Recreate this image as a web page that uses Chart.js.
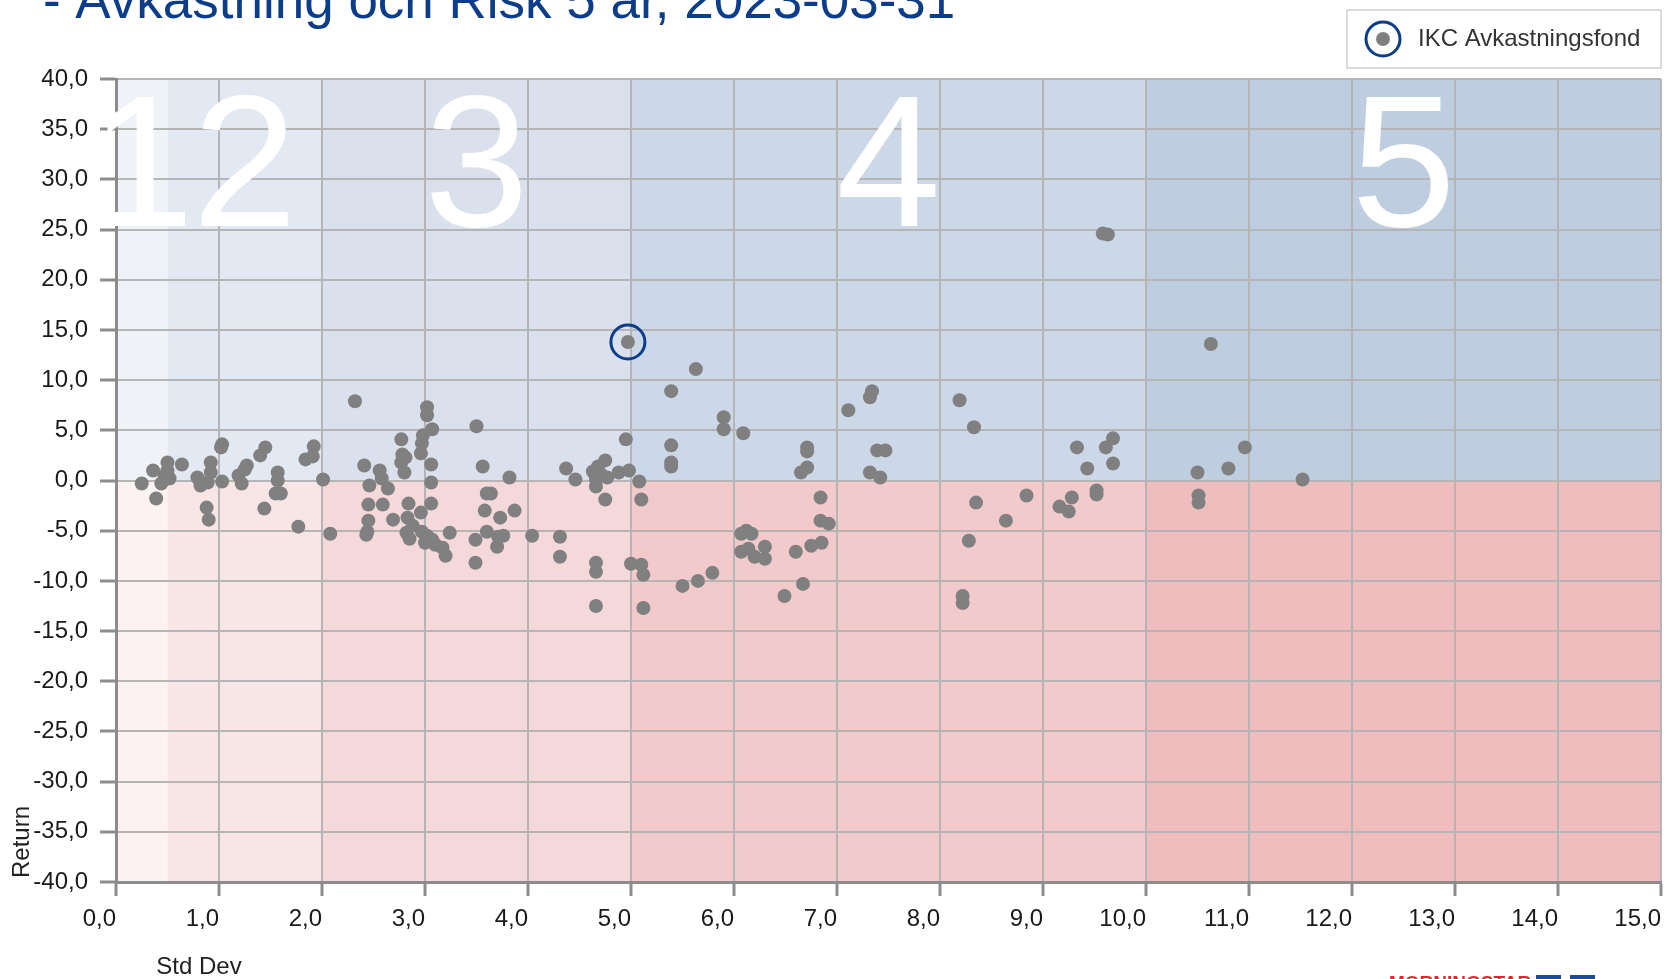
<!DOCTYPE html>
<html>
<head>
<meta charset="utf-8">
<script src="https://cdn.jsdelivr.net/npm/chart.js@4.4.0/dist/chart.umd.min.js"></script>
<style>
  html, body { margin: 0; padding: 0; background: #fff; }
  canvas { display: block; }
</style>
</head>
<body>
<canvas id="chart" width="1667" height="979"></canvas>
<script>
// Avkastning och Risk 5 år - scatter (std dev vs return)

const titleText = '- Avkastning och Risk 5 år, 2023-03-31';
const fundName = 'IKC Avkastningsfond';

// risk class bands on the x axis
const bandEdges = [0, 0.5, 2, 5, 10, 15];
const bandLabels = ['1', '2', '3', '4', '5'];
const bandColorsUp = ['#eff3f8', '#e3e9f2', '#dae1ec', '#ccd8e8', '#bfcde0'];
const bandColorsDown = ['#fbf2f1', '#f8e5e5', '#f5d8d9', '#f2cacb', '#efbdbd'];

// the fund itself
const fundStd = [4.97];
const fundRet = [13.8];

// all other funds (std dev, return)
const otherStd = [
  0.25, 0.36, 0.39, 0.44, 0.50, 0.50, 0.52, 0.64, 0.47,
  0.79, 0.82, 0.92, 0.92, 0.89, 0.88, 0.90,
  1.03, 1.02, 1.03, 1.19, 1.27, 1.22, 1.25,
  1.40, 1.45, 1.44, 1.57, 1.57, 1.55, 1.60, 1.77,
  1.84, 1.91, 1.92, 2.01, 2.08, 2.32,
  2.41, 2.56, 2.58, 2.46, 2.64, 2.45, 2.59, 2.45, 2.43, 2.44,
  2.77, 2.78, 2.81, 2.77, 2.80,
  2.98, 2.97, 2.96, 3.02, 3.02, 3.07, 3.06, 3.06,
  2.84, 3.06, 2.96,
  2.69, 2.83, 2.88, 2.82, 2.85, 2.97, 3.02, 3.00, 3.07, 3.10, 3.17, 3.20, 3.24,
  3.50, 3.56, 3.82, 3.60, 3.64, 3.58, 3.73, 3.87,
  3.60, 3.71, 3.76, 3.70, 4.04, 3.49, 3.49,
  4.37, 4.46, 4.63, 4.68, 4.75, 4.71, 4.77, 4.66, 4.66,
  4.88, 4.98, 5.08, 4.75, 5.10, 4.95,
  4.31, 4.31, 4.66, 4.66, 4.66, 5.00, 5.10, 5.12, 5.12,
  5.50, 5.65, 5.79, 5.39, 5.63, 5.39, 5.39, 5.39,
  5.90, 5.90, 6.09, 6.07, 6.12, 6.17,
  6.07, 6.14, 6.20, 6.30, 6.30, 6.60, 6.75, 6.85, 6.49, 6.67,
  6.84, 6.84, 6.92, 6.71, 6.71, 6.71, 6.65,
  7.11, 7.34, 7.32, 7.39, 7.47, 7.32, 7.42,
  8.19, 8.33, 8.35, 8.84, 8.64, 8.28, 8.22, 8.22,
  9.16, 9.25, 9.28, 9.33, 9.43, 9.52, 9.52, 9.61, 9.68, 9.68,
  9.58, 9.63,
  10.50, 10.51, 10.51, 10.63, 10.80, 10.96, 11.52
];
const otherRet = [
  -0.3, 1.0, -1.8, -0.3, 1.8, 1.0, 0.2, 1.6, 0.5,
  0.3, -0.5, 1.8, 0.8, -0.2, -2.7, -3.9,
  3.6, 3.3, -0.1, 0.5, 1.5, -0.3, 1.1,
  2.5, 3.3, -2.8, 0.8, 0.0, -1.3, -1.3, -4.6,
  2.1, 2.4, 3.4, 0.1, -5.3, 7.9,
  1.5, 1.0, 0.2, -0.5, -0.8, -2.4, -2.4, -4.0, -5.4, -5.1,
  4.1, 2.6, 2.3, 1.8, 0.8,
  4.5, 3.7, 2.7, 7.3, 6.5, 5.1, 1.6, -0.2,
  -2.3, -2.3, -3.2,
  -3.9, -3.7, -4.5, -5.2, -5.8, -5.1, -5.5, -6.2, -5.9, -6.4, -6.7, -7.5, -5.2,
  5.4, 1.4, 0.3, -1.3, -1.3, -3.0, -3.7, -3.0,
  -5.1, -5.6, -5.5, -6.6, -5.5, -5.9, -8.2,
  1.2, 0.1, 0.9, 1.4, 2.0, 0.6, 0.3, -0.6, 0.1,
  0.8, 1.0, -0.1, -1.9, -1.9, 4.1,
  -5.6, -7.6, -8.2, -9.1, -12.5, -8.3, -8.4, -9.4, -12.7,
  -10.5, -10.0, -9.2, 8.9, 11.1, 3.5, 1.8, 1.4,
  6.3, 5.1, 4.7, -5.3, -5.0, -5.3,
  -7.1, -6.8, -7.6, -6.6, -7.8, -7.1, -6.5, -6.2, -11.5, -10.3,
  -1.7, -4.0, -4.3, 3.3, 2.9, 1.3, 0.8,
  7.0, 8.9, 8.3, 3.0, 3.0, 0.8, 0.3,
  8.0, 5.3, -2.2, -1.5, -4.0, -6.0, -11.5, -12.2,
  -2.6, -3.1, -1.7, 3.3, 1.2, -1.0, -1.4, 3.3, 4.2, 1.7,
  24.6, 24.5,
  0.8, -1.5, -2.2, 13.6, 1.2, 3.3, 0.1
];

const FONT = '"Liberation Sans", Arial, Helvetica, sans-serif';
const DOT = '#808080';
const BLUE = '#0b3d8a';

function toPoints(xs, ys) {
  return xs.map((v, i) => ({ x: v, y: ys[i] }));
}
function fmt(v) {
  return v.toFixed(1).replace('.', ',');
}

// background bands, drawn under the grid
const bandsPlugin = {
  id: 'bands',
  beforeDraw(chart) {
    const { ctx, chartArea: a, scales: { x, y } } = chart;
    ctx.save();
    ctx.fillStyle = '#fff';
    ctx.fillRect(0, 0, chart.width, chart.height);
    const y0 = y.getPixelForValue(0);
    for (let i = 0; i < bandEdges.length - 1; i++) {
      const x1 = x.getPixelForValue(bandEdges[i]);
      const x2 = x.getPixelForValue(bandEdges[i + 1]);
      ctx.fillStyle = bandColorsUp[i];
      ctx.fillRect(x1, a.top, x2 - x1, y0 - a.top);
      ctx.fillStyle = bandColorsDown[i];
      ctx.fillRect(x1, y0, x2 - x1, a.bottom - y0);
    }
    ctx.restore();
  }
};

// texts on top: risk class numbers, title, legend, axis titles
const overlayPlugin = {
  id: 'overlay',
  afterDraw(chart) {
    const { ctx, scales: { x } } = chart;
    ctx.save();

    // big white risk class numbers
    ctx.fillStyle = '#fff';
    ctx.font = '188px ' + FONT;
    ctx.textAlign = 'center';
    ctx.textBaseline = 'alphabetic';
    for (let i = 0; i < bandLabels.length; i++) {
      const cx = x.getPixelForValue((bandEdges[i] + bandEdges[i + 1]) / 2);
      ctx.fillText(bandLabels[i], cx, 226);
    }

    // title (cut at the top like the original)
    ctx.fillStyle = BLUE;
    ctx.font = '53px ' + FONT;
    ctx.textAlign = 'left';
    ctx.fillText(titleText, 43, 18);

    // legend
    ctx.fillStyle = '#fff';
    ctx.fillRect(1347, 10, 314, 58);
    ctx.strokeStyle = '#cfcfcf';
    ctx.lineWidth = 1.5;
    ctx.strokeRect(1347, 10, 314, 58);
    ctx.beginPath();
    ctx.arc(1383, 39, 17, 0, Math.PI * 2);
    ctx.strokeStyle = BLUE;
    ctx.lineWidth = 3;
    ctx.stroke();
    ctx.beginPath();
    ctx.arc(1383, 39, 7, 0, Math.PI * 2);
    ctx.fillStyle = DOT;
    ctx.fill();
    ctx.fillStyle = '#333';
    ctx.font = '24px ' + FONT;
    ctx.textBaseline = 'middle';
    ctx.fillText(fundName, 1418, 39);

    // axis titles
    ctx.fillStyle = '#222';
    ctx.textAlign = 'center';
    ctx.fillText('Std Dev', 199, 967);
    ctx.translate(22, 842);
    ctx.rotate(-Math.PI / 2);
    ctx.fillText('Return', 0, 0);
    ctx.restore();

    // logo peeking in at the bottom
    ctx.save();
    ctx.fillStyle = '#e0262d';
    ctx.font = 'bold 19px ' + FONT;
    ctx.textBaseline = 'top';
    ctx.fillText('MORNINGSTAR', 1389, 974);
    ctx.fillStyle = '#1b4a9a';
    ctx.fillRect(1536, 975, 25, 10);
    ctx.fillRect(1570, 975, 25, 10);
    ctx.restore();
  }
};

const ctx = document.getElementById('chart').getContext('2d');

new Chart(ctx, {
  type: 'scatter',
  data: {
    datasets: [
      {
        label: fundName + ' ring',
        data: toPoints(fundStd, fundRet),
        pointRadius: 17,
        pointBackgroundColor: 'rgba(0,0,0,0)',
        pointBorderColor: BLUE,
        pointBorderWidth: 3
      },
      {
        label: fundName,
        data: toPoints(fundStd, fundRet),
        pointRadius: 7,
        pointBackgroundColor: DOT,
        pointBorderWidth: 0
      },
      {
        label: 'Övriga',
        data: toPoints(otherStd, otherRet),
        pointRadius: 7,
        pointBackgroundColor: DOT,
        pointBorderWidth: 0
      }
    ]
  },
  options: {
    responsive: false,
    devicePixelRatio: 1,
    animation: false,
    events: [],
    layout: { autoPadding: false, padding: { left: 0, right: 6, top: 79, bottom: 0 } },
    plugins: {
      legend: { display: false },
      tooltip: { enabled: false }
    },
    scales: {
      x: {
        type: 'linear',
        min: 0,
        max: 15,
        afterFit: (s) => { s.height = 97; s.paddingRight = 0; s.paddingLeft = 0; },
        grid: { color: '#b5b5b5', lineWidth: 2, tickColor: '#8c8c8c', tickWidth: 3, tickLength: 14 },
        border: { color: '#8c8c8c', width: 3 },
        ticks: {
          stepSize: 1,
          align: 'end',
          padding: 9,
          color: '#1a1a1a',
          font: { family: FONT, size: 24 },
          callback: (v) => fmt(v)
        }
      },
      y: {
        type: 'linear',
        min: -40,
        max: 40,
        afterFit: (s) => { s.width = 116; s.paddingTop = 0; s.paddingBottom = 0; },
        grid: { color: '#b5b5b5', lineWidth: 2, tickColor: '#8c8c8c', tickWidth: 3, tickLength: 16 },
        border: { color: '#8c8c8c', width: 3 },
        ticks: {
          stepSize: 5,
          padding: 12,
          color: '#1a1a1a',
          font: { family: FONT, size: 24 },
          callback: (v) => fmt(v)
        }
      }
    }
  },
  plugins: [bandsPlugin, overlayPlugin]
});
</script>
</body>
</html>
